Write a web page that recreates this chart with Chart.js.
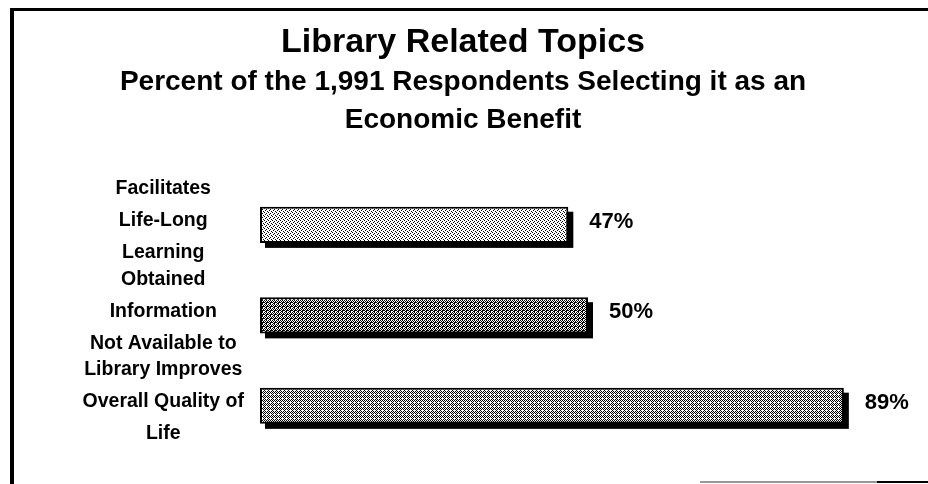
<!DOCTYPE html>
<html>
<head>
<meta charset="utf-8">
<script src="https://cdn.jsdelivr.net/npm/chart.js@4"></script>
<style>
  body { margin: 0; background: #fff; }
  .wrap { position: relative; width: 928px; height: 484px; }
  .frame-left { position: absolute; left: 10px; top: 9px; width: 4px; height: 475px; background: #000; }
  .frame-top { position: absolute; left: 10px; top: 8px; width: 918px; height: 3px; background: #000; }
  .frame-bottom { position: absolute; left: 700px; top: 481px; width: 228px; height: 2px; background: #999; }
  .frame-bottom2 { position: absolute; left: 877px; top: 481px; width: 51px; height: 2px; background: #000; }
</style>
</head>
<body>
<div class="wrap">
  <canvas id="chart" width="928" height="484"></canvas>
  <div class="frame-left"></div>
  <div class="frame-top"></div>
  <div class="frame-bottom"></div>
  <div class="frame-bottom2"></div>
</div>
<script>
// Data
const categories = [
  ["Facilitates", "Life-Long", "Learning"],
  ["Obtained", "Information", "Not Available to"],
  ["Library Improves", "Overall Quality of", "Life"]
];
const percents = [47, 50, 89];
const titleText = "Library Related Topics";
const subtitleLines = ["Percent of the 1,991 Respondents Selecting it as an", "Economic Benefit"];

// stipple fills, rows of 1 = black dot
function makePattern(rows) {
  const c = document.createElement("canvas");
  c.width = rows[0].length;
  c.height = rows.length;
  const g = c.getContext("2d");
  g.fillStyle = "#fff";
  g.fillRect(0, 0, c.width, c.height);
  g.fillStyle = "#000";
  rows.forEach((r, y) => {
    for (let x = 0; x < r.length; x++) {
      if (r[x] === "1") g.fillRect(x, y, 1, 1);
    }
  });
  return c.getContext("2d").createPattern(c, "repeat");
}

const fills = [
  makePattern(["1000", "0010", "0100", "0001"]),
  makePattern(["1010", "0101", "1011", "0110"]),
  makePattern(["1010", "0101", "1000", "0101"])
];

// black drop shadow behind each bar
const shadowPlugin = {
  id: "shadow",
  beforeDatasetsDraw(chart) {
    const ctx = chart.ctx;
    ctx.save();
    ctx.fillStyle = "#000";
    chart.getDatasetMeta(0).data.forEach(bar => {
      const h = bar.height;
      ctx.fillRect(bar.base + 5, bar.y - h / 2 + 5, bar.x - bar.base, h);
    });
    ctx.restore();
  }
};

// percent labels to the right of bars
const valueLabels = {
  id: "valueLabels",
  afterDatasetsDraw(chart) {
    const ctx = chart.ctx;
    ctx.save();
    ctx.font = "bold 22px 'Liberation Sans', Arial, sans-serif";
    ctx.fillStyle = "#000";
    ctx.textBaseline = "middle";
    chart.getDatasetMeta(0).data.forEach((bar, i) => {
      ctx.fillText(percents[i] + "%", bar.x + 21, bar.y - 3);
    });
    ctx.restore();
  }
};

new Chart(document.getElementById("chart"), {
  type: "bar",
  data: {
    labels: categories,
    datasets: [
      {
        data: percents,
        backgroundColor: fills,
        borderColor: "#000",
        borderWidth: 2,
        borderSkipped: false,
        barPercentage: 0.4,
        categoryPercentage: 1
      }
    ]
  },
  plugins: [shadowPlugin, valueLabels],
  options: {
    indexAxis: "y",
    responsive: false,
    animation: false,
    layout: { padding: { left: 10, right: 12, top: 0, bottom: 33 } },
    scales: {
      x: { min: 0, max: 100, display: false },
      y: {
        grid: { display: false, drawTicks: false },
        border: { display: false },
        afterFit(scale) {
          scale.width = 250;
          scale.paddingTop = 0;
          scale.paddingBottom = 0;
        },
        ticks: {
          autoSkip: false,
          crossAlign: "center",
          padding: 16,
          labelOffset: -4,
          color: "#000",
          font: { family: "'Liberation Sans', Arial, sans-serif", size: 19.5, weight: "bold", lineHeight: 1.64 }
        }
      }
    },
    plugins: {
      legend: { display: false },
      tooltip: { enabled: false },
      title: {
        display: true,
        text: titleText,
        color: "#000",
        font: { family: "'Liberation Sans', Arial, sans-serif", size: 34, weight: "bold", lineHeight: 1.1 },
        padding: { top: 24, bottom: 2 }
      },
      subtitle: {
        display: true,
        text: subtitleLines,
        color: "#000",
        font: { family: "'Liberation Sans', Arial, sans-serif", size: 28, weight: "bold", lineHeight: 1.36 },
        padding: { top: 0, bottom: 40 }
      }
    }
  }
});
</script>
</body>
</html>
